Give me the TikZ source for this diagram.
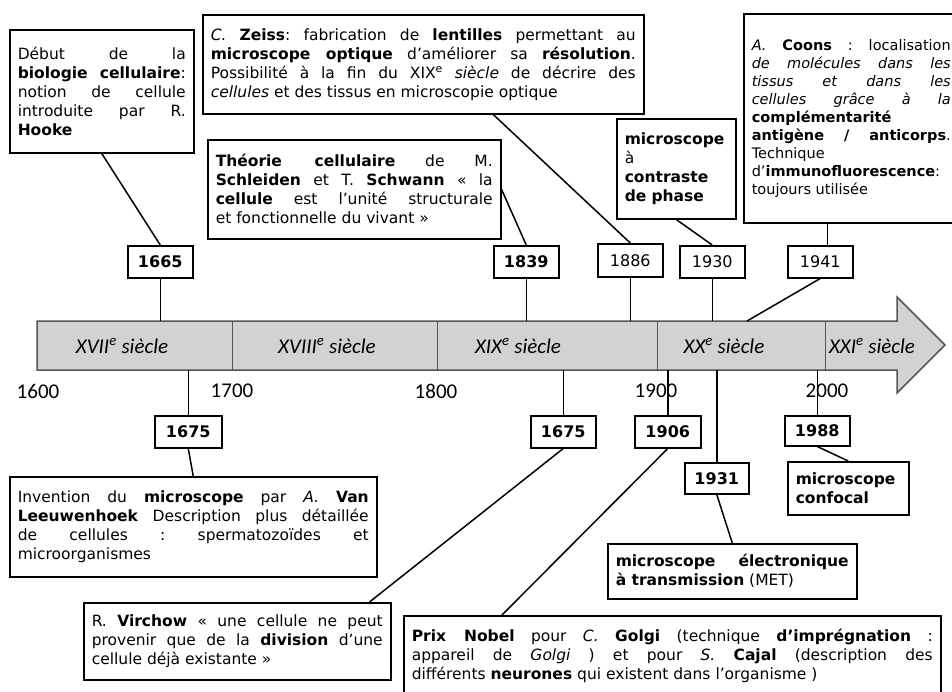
\documentclass[tikz,border=0pt]{standalone}
\usepackage{fontspec}
\setmainfont{DejaVu Sans}
\newfontfamily\calib{Carlito}
\usepackage{tikz}
\tolerance=10000
\hbadness=10000
\hyphenpenalty=10000
\frenchspacing

\tikzset{
  infobox/.style={draw, line width=1.5pt, anchor=north west, inner xsep=8pt, inner ysep=6pt,
    align=justify, font=\fontsize{15.5}{19}\selectfont},
  yearbox/.style={draw, line width=1.5pt, anchor=north west, inner sep=0pt,
    minimum width=65pt, minimum height=32pt, font=\fontsize{16}{18}\selectfont\bfseries},
  yearthin/.style={yearbox, font=\fontsize{16}{18}\selectfont},
  link/.style={line width=1.5pt},
  century/.style={font=\calib\fontsize{21}{24}\selectfont\itshape},
  yearlbl/.style={font=\calib\fontsize{21}{24}\selectfont},
}

\begin{document}
\begin{tikzpicture}[x=1pt,y=-1pt]
  \definecolor{barfill}{RGB}{210,210,210}
  \definecolor{barline}{RGB}{85,85,85}
  \useasboundingbox (0,0) rectangle (952,691);

  % the time axis
  \filldraw[fill=barfill, draw=barline, line width=1.5pt]
    (37,321) -- (897,321) -- (897,297) -- (945,345) -- (897,393) -- (897,370) -- (37,370) -- cycle;
  \foreach \x in {232,437,657,825}
    \draw[barline, line width=1pt] (\x,321) -- (\x,370);
  \coordinate (bartop) at (0,321);
  \coordinate (barbot) at (0,370);
  \coordinate (a1941) at (747,321);

  \node[century] (c17) at (122,346) {XVII\textsuperscript{e} siècle};
  \node[century] (c18) at (327,346) {XVIII\textsuperscript{e} siècle};
  \node[century] (c19) at (518,346) {XIX\textsuperscript{e} siècle};
  \node[century] (c20) at (724,346) {XX\textsuperscript{e} siècle};
  \node[century] (c21) at (872,346) {XXI\textsuperscript{e} siècle};

  \node[yearlbl] (l1600) at (38,391) {1600};
  \node[yearlbl] (l1700) at (232,391) {1700};
  \node[yearlbl] (l1800) at (436,391) {1800};
  \node[yearlbl] (l1900) at (656,391) {1900};
  \node[yearlbl] (l2000) at (827,391) {2000};

  % above the axis
  \node[yearbox] (y1665) at (127,245) {1665};
  \node[yearbox] (y1839) at (493,245) {1839};
  \node[yearthin, minimum height=33pt] (y1886) at (597,243) {1886};
  \node[yearthin] (y1930) at (679,245) {1930};
  \node[yearthin] (y1941) at (787,245) {1941};

  \node[infobox, text width=168pt, minimum height=123pt] (hooke) at (9,29)
    {Début de la\linebreak \textbf{biologie cellulaire}:\linebreak notion de cellule\linebreak
     introduite par R.\linebreak \textbf{Hooke}};
  \node[infobox, text width=425pt, minimum height=99pt] (zeiss) at (202,14)
    {\textit{C.} \textbf{Zeiss}: fabrication de \textbf{lentilles} permettant au\linebreak
     \textbf{microscope optique} d’améliorer sa \textbf{résolution}.\linebreak
     Possibilité à la fin du XIX\textsuperscript{e} \textit{siècle} de décrire des\linebreak
     \textit{cellules} et des tissus en microscopie optique};
  \node[infobox, text width=277pt, minimum height=99pt] (theorie) at (207,139)
    {\textbf{Théorie cellulaire} de M.\linebreak \textbf{Schleiden} et T. \textbf{Schwann} « la\linebreak
     \textbf{cellule} est l’unité structurale\linebreak et fonctionnelle du vivant »};
  \node[infobox, align=left, text width=103pt, minimum height=100pt] (phase) at (616,118)
    {\textbf{microscope}\\à\\\textbf{contraste}\\\textbf{de phase}};
  \node[infobox, text width=199pt, minimum height=209pt, font=\fontsize{14.5}{18}\selectfont] (coons) at (743,13)
    {\textit{A.} \textbf{Coons} : localisation\linebreak \textit{de molécules dans les}\linebreak
     \textit{tissus et dans les}\linebreak \textit{cellules grâce à la}\linebreak
     \textbf{complémentarité}\linebreak \textbf{antigène / anticorps}.\linebreak
     Technique\linebreak d’\textbf{immunofluorescence}:\linebreak toujours utilisée};

  \draw[link] (hooke.south) -- (y1665.north);
  \draw[link] ([xshift=70pt]zeiss.south) -- (y1886.north);
  \draw[link] (theorie.east) -- (y1839.north);
  \draw[link] (phase.south) -- (y1930.north);
  \draw[link] ([xshift=7pt]y1941.north) -- ([xshift=7pt]y1941.north |- coons.south);

  \draw[link] (y1665.south) -- (y1665.south |- bartop);
  \draw[link] (y1839.south) -- (y1839.south |- bartop);
  \draw[link] (y1886.south) -- (y1886.south |- bartop);
  \draw[link] (y1930.south) -- (y1930.south |- bartop);
  \draw[link] (y1941.south) -- (a1941);

  % below the axis
  \node[yearbox, minimum width=67pt] (y1675a) at (154,415) {1675};
  \node[yearbox] (y1675b) at (530,415) {1675};
  \node[yearbox, minimum width=66pt] (y1906) at (634,415) {1906};
  \node[yearbox, minimum width=64pt, minimum height=31pt] (y1931) at (684,462) {1931};
  \node[yearbox, minimum height=30pt] (y1988) at (784,415) {1988};

  \node[infobox, text width=351pt, minimum height=100pt] (leeuw) at (9,476)
    {Invention du \textbf{microscope} par \textit{A.} \textbf{Van}\linebreak
     \textbf{Leeuwenhoek} Description plus détaillée\linebreak
     de cellules : spermatozoïdes et\linebreak microorganismes};
  \node[infobox, text width=291pt, minimum height=77pt] (virchow) at (83,602)
    {R. \textbf{Virchow} « une cellule ne peut\linebreak
     provenir que de la \textbf{division} d’une\linebreak cellule déjà existante »};
  \node[infobox, text width=233pt, minimum height=55pt] (met) at (607,543)
    {\textbf{microscope électronique}\linebreak \textbf{à transmission} (MET)};
  \node[infobox, align=left, text width=105pt, minimum height=53pt] (confocal) at (787,461)
    {\textbf{microscope}\\\textbf{confocal}};
  \node[infobox, text width=521pt, minimum height=80pt] (nobel) at (403,615)
    {\textbf{Prix Nobel} pour \textit{C.} \textbf{Golgi} (technique \textbf{d’imprégnation} :\linebreak
     appareil de \textit{Golgi} ) et pour \textit{S.} \textbf{Cajal} (description des\linebreak
     différents \textbf{neurones} qui existent dans l’organisme )};

  \draw[link] (y1675a.north) -- (y1675a.north |- barbot);
  \draw[link] (y1675b.north) -- (y1675b.north |- barbot);
  \draw[link] (y1906.north) -- (y1906.north |- barbot);
  \draw[link] (y1931.north) -- (y1931.north |- barbot);
  \draw[link] (y1988.north) -- (y1988.north |- barbot);

  \draw[link] (y1675a.south) -- (leeuw.north);
  \draw[link] (y1675b.south) -- ([xshift=-22pt]virchow.north east);
  \draw[link] (y1906.south) -- ([xshift=99pt]nobel.north west);
  \draw[link] (y1931.south) -- (met.north);
  \draw[link] (y1988.south) -- (confocal.north);
\end{tikzpicture}
\end{document}
